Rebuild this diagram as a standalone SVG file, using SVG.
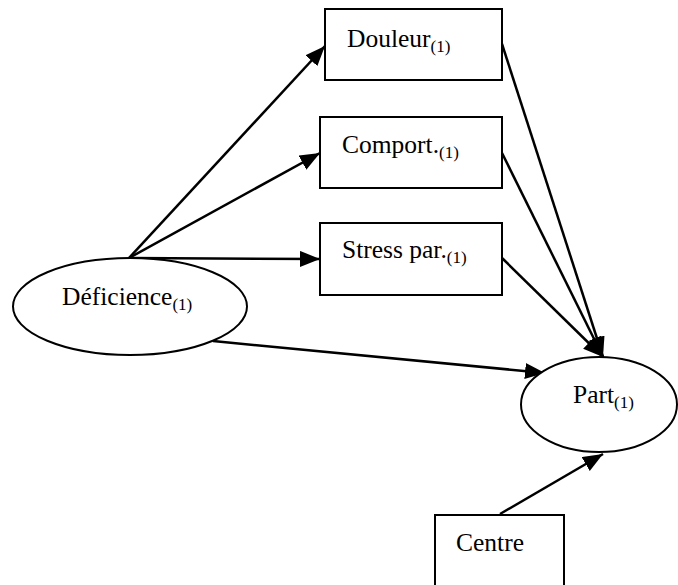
<svg xmlns="http://www.w3.org/2000/svg" width="678" height="585" viewBox="0 0 678 585">
<style>
.box{fill:#fff;stroke:#000;stroke-width:2}
.ell{fill:#fff;stroke:#000;stroke-width:2}
.lbl{font-family:"Liberation Serif","Times New Roman",serif;font-size:25.5px;fill:#000}
.sub{font-size:17px}
.edge{stroke:#000;stroke-width:2.5;fill:none;marker-end:url(#ah)}
</style>
<defs>
<marker id="ah" markerUnits="userSpaceOnUse" markerWidth="20" markerHeight="16" viewBox="0 0 20 16" refX="20" refY="8" orient="auto">
<path d="M0,0 L20,8 L0,16 Z" fill="#000"/>
</marker>
</defs>
<g id="connectors">
<line class="edge" x1="129" y1="258" x2="325" y2="46"/>
<line class="edge" x1="129" y1="258" x2="320" y2="153"/>
<line class="edge" x1="129" y1="258" x2="320" y2="259"/>
<line class="edge" x1="213" y1="341" x2="545" y2="373"/>
<line class="edge" x1="502" y1="44" x2="603" y2="357"/>
<line class="edge" x1="502" y1="153" x2="603" y2="357"/>
<line class="edge" x1="502" y1="258" x2="603" y2="357"/>
<line class="edge" x1="500" y1="514" x2="603" y2="454"/>
</g>
<g id="douleur">
<rect class="box" x="325" y="9" width="177" height="71"/>
<text class="lbl" x="347" y="47">Douleur<tspan class="sub" dy="5">(1)</tspan></text>
</g>
<g id="comport">
<rect class="box" x="320" y="117" width="182" height="71"/>
<text class="lbl" x="342" y="153">Comport.<tspan class="sub" dy="5">(1)</tspan></text>
</g>
<g id="stress">
<rect class="box" x="320" y="223" width="182" height="72"/>
<text class="lbl" x="342" y="258">Stress par.<tspan class="sub" dy="5">(1)</tspan></text>
</g>
<g id="deficience">
<ellipse class="ell" cx="130" cy="306.5" rx="117" ry="48.5"/>
<text class="lbl" x="62" y="305">Déficience<tspan class="sub" dy="5">(1)</tspan></text>
</g>
<g id="part">
<ellipse class="ell" cx="599" cy="404.5" rx="78" ry="47.5"/>
<text class="lbl" x="573" y="403">Part<tspan class="sub" dy="5">(1)</tspan></text>
</g>
<g id="centre">
<rect class="box" x="435" y="515" width="129" height="80"/>
<text class="lbl" x="456" y="551">Centre</text>
</g>
</svg>
